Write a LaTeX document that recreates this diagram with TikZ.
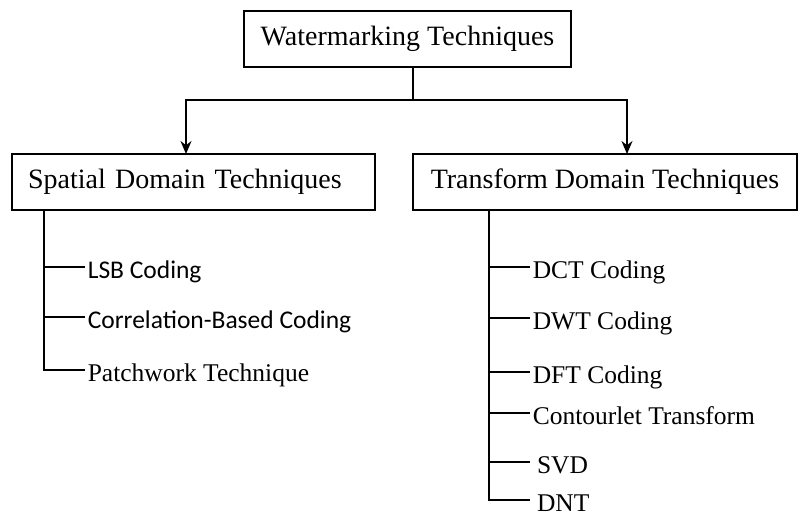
\documentclass[tikz,border=0pt]{standalone}
\usepackage{fontspec}
\setmainfont{Liberation Serif}
\newfontfamily\calibri{Carlito}
\usetikzlibrary{arrows.meta}

\begin{document}
\begin{tikzpicture}[x=1pt,y=-1pt,line width=1.6pt,>={Stealth[length=13pt,width=11pt]},
    box/.style={draw,rectangle,minimum height=56pt,font=\fontsize{28}{32}\selectfont},
    item/.style={anchor=west,inner xsep=2pt,inner ysep=0pt,text height=22pt,text depth=0pt,
      font=\fontsize{25.5}{30}\selectfont},
    sansitem/.style={item,font=\fontsize{25.5}{30}\selectfont\calibri}]
        \useasboundingbox (0,0) rectangle (800,514);
        % boxes
        \node[box,minimum width=327pt] (wm) at (407.5,39) {Watermarking Techniques};
        \node[box,minimum width=363pt,text width=331pt,align=left,inner xsep=0pt] (sp)
          at (193.5,182) {Spatial Domain Techniques};
        \node[box,minimum width=384pt] (tr) at (605,182) {Transform Domain Techniques};
        % split into the two domains
        \coordinate (split) at (413,100);
        \coordinate (spin) at (186,154);
        \coordinate (trin) at (627,154);
        \draw (split |- wm.south) -- (split);
        \draw[->] (split) -| (spin);
        \draw[->] (split) -| (trin);
        % spatial domain
        \coordinate (spbus) at (44,210);
        \node[sansitem] (lsb) at (85,267) {LSB Coding};
        \node[sansitem] (corr) at (85,317) {Correlation-Based Coding};
        \node[item] (patch) at (85,370) {Patchwork Technique};
        \foreach \n in {lsb,corr,patch}
          \draw (spbus) |- (\n.west);
        % transform domain
        \coordinate (trbus) at (489,210);
        \node[item] (dct) at (530,267) {DCT Coding};
        \node[item] (dwt) at (530,318) {DWT Coding};
        \node[item] (dft) at (530,372) {DFT Coding};
        \node[item] (ctl) at (530,413) {Contourlet Transform};
        \node[item] (svd) at (530,462) {\,SVD};
        \node[item] (dnt) at (530,500) {\,DNT};
        \foreach \n in {dct,dwt,dft,ctl,svd,dnt}
          \draw (trbus) |- (\n.west);
\end{tikzpicture}
\end{document}
